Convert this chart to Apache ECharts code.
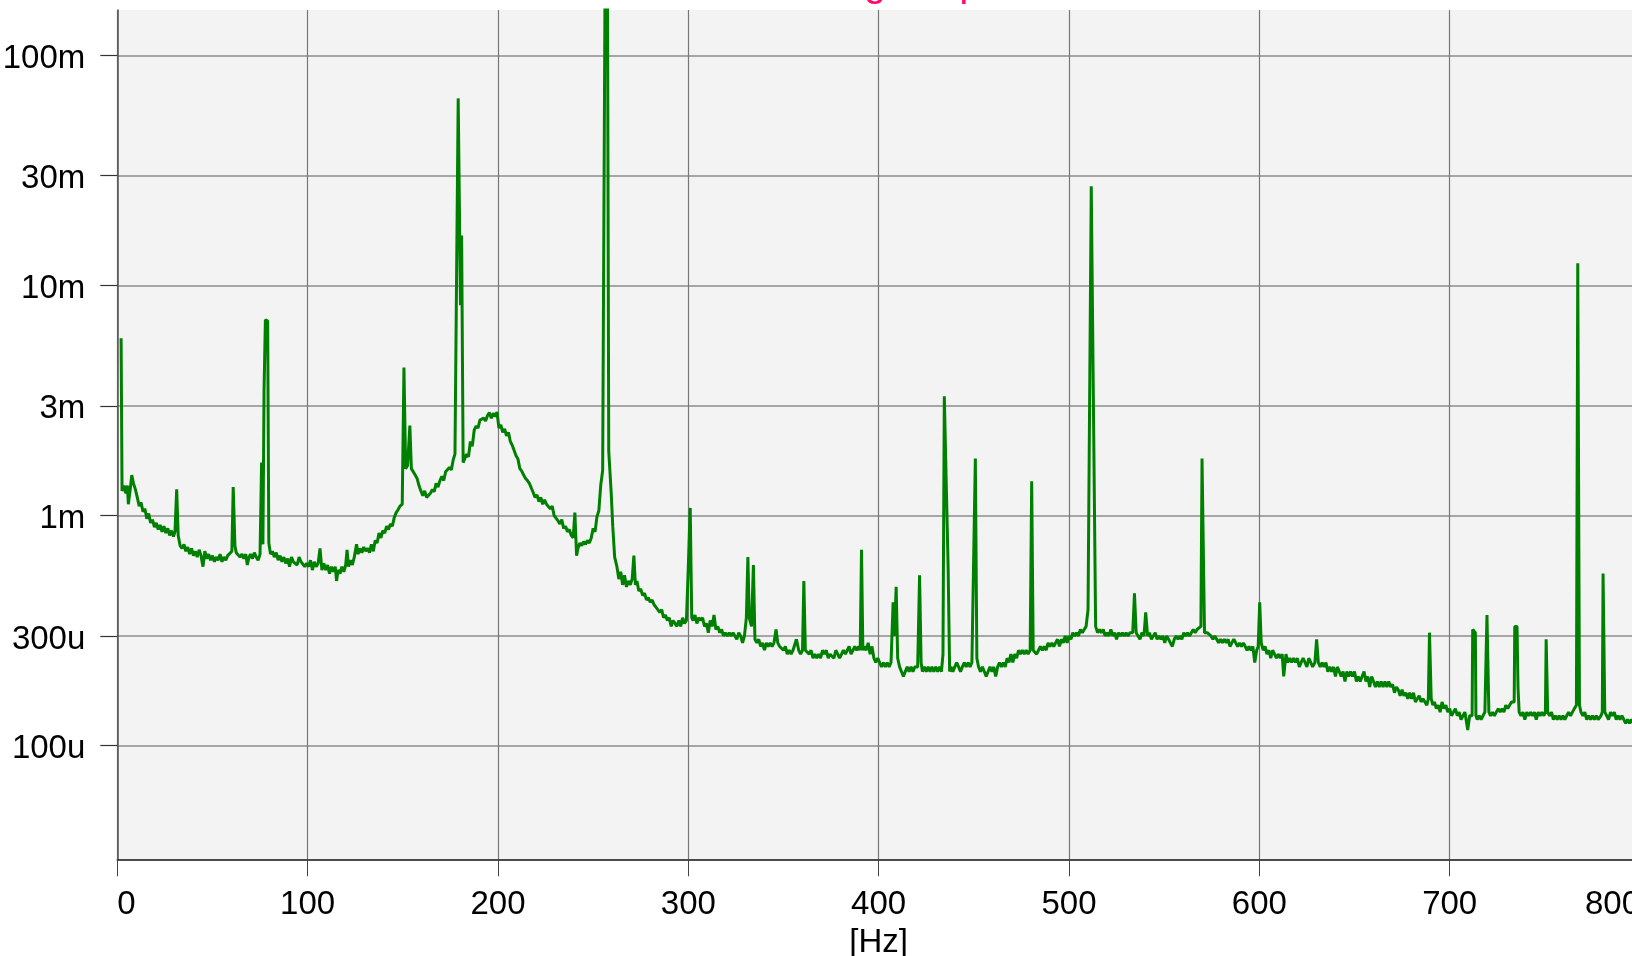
<!DOCTYPE html>
<html>
<head>
<meta charset="utf-8">
<script src="https://cdn.jsdelivr.net/npm/echarts@6/dist/echarts.min.js"></script>
<style>
html,body{margin:0;padding:0;background:#ffffff;}
#chart{width:1632px;height:956px;}
</style>
</head>
<body>
<div id="chart"></div>
<script>
// Spectrum amplitude, [frequency in Hz, amplitude in milli-units]
const band0to100 = [[2,5.9],[2.5,1.28],[3.5,1.35],[4.5,1.25],[5.3,1.35],[5.8,1.12],[6.8,1.3],[7.6,1.5],[8.5,1.38],[9.5,1.3],[10.5,1.2],[11.5,1.1],[12.5,1.14],[13.5,1.04],[14.5,1.07],[15.5,0.97],[16.5,1.02],[17.5,0.93],[18.5,0.96],[19.5,0.89],[20.5,0.93],[21.5,0.87],[22.5,0.91],[23.5,0.85],[24.5,0.9],[25.5,0.84],[26.5,0.88],[27.5,0.82],[28.5,0.86],[29.5,0.81],[30.3,0.85],[31.2,1.3],[32,0.82],[33,0.74],[34,0.72],[35,0.75],[36,0.7],[37,0.73],[38,0.68],[39,0.72],[40,0.67],[41,0.7],[42,0.66],[43,0.71],[44,0.67],[45,0.6],[46,0.7],[47,0.65],[48,0.68],[49,0.64],[50,0.67],[51,0.63],[52,0.66],[53,0.64],[54,0.68],[55,0.63],[56,0.66],[57,0.64],[58,0.67],[59,0.66],[60.2,0.7],[60.9,1.33],[61.8,0.74],[62.5,0.69],[63.5,0.7],[64.5,0.66],[65.5,0.68],[66.5,0.65],[67.5,0.68],[68.3,0.61],[69.2,0.66],[70,0.68],[71,0.65],[72,0.69],[73,0.66],[74,0.64],[75,0.68],[75.8,1.7],[76.5,0.75],[77.1,3.5],[77.8,7.1],[79,7.0],[79.6,0.76],[80.5,0.68],[81.5,0.7],[82.5,0.66],[83.5,0.69],[84.5,0.64],[85.5,0.67],[86.5,0.63],[87.5,0.66],[88.5,0.62],[89.5,0.65],[90.5,0.6],[91.5,0.66],[92.5,0.63],[93.5,0.64],[94.5,0.61],[95.5,0.66],[96.5,0.63],[97.5,0.64],[98.5,0.6],[99.5,0.62]];
const band100to200 = [[100.5,0.6],[101.5,0.64],[102.5,0.58],[103.5,0.63],[104.5,0.6],[105.5,0.62],[106.5,0.72],[107.5,0.58],[108.5,0.62],[109.5,0.58],[110.5,0.61],[111.5,0.56],[112.5,0.6],[113.5,0.57],[114.5,0.6],[115.2,0.52],[116,0.58],[117,0.56],[118,0.6],[119,0.57],[120,0.61],[120.7,0.71],[121.5,0.6],[122.5,0.64],[123.5,0.61],[124.5,0.66],[125.7,0.75],[126.5,0.68],[127.5,0.72],[128.5,0.69],[129.5,0.73],[130.5,0.7],[131.5,0.72],[132.5,0.69],[133.5,0.75],[134.5,0.7],[135.5,0.78],[136.5,0.76],[137.5,0.84],[138.5,0.8],[139.5,0.86],[140.5,0.84],[141.5,0.9],[142.5,0.87],[143.5,0.92],[144.5,0.9],[145.5,0.98],[146.5,1.03],[147.5,1.06],[148.5,1.1],[149.7,1.12],[150.6,4.4],[151.5,1.6],[152.5,1.65],[153.7,2.46],[154.5,1.6],[155.5,1.58],[156.5,1.5],[157.5,1.45],[158.5,1.35],[159.5,1.28],[160.5,1.22],[161.5,1.28],[162.5,1.2],[163.5,1.18],[164.5,1.25],[165.5,1.3],[166.5,1.27],[167.5,1.38],[168.5,1.33],[169.5,1.42],[170.5,1.48],[171.5,1.42],[172.5,1.55],[173.5,1.52],[174.5,1.62],[175.5,1.58],[176.5,1.75],[177.4,1.85],[179.1,65],[180.3,8.2],[180.9,16.5],[181.7,1.7],[182.5,1.72],[183.5,1.85],[184.5,1.8],[185.5,2.1],[186.5,2.0],[187.5,2.35],[188.5,2.45],[189.5,2.4],[190.5,2.6],[191.5,2.55],[192.5,2.65],[193.5,2.58],[194.5,2.72],[195.5,2.8],[196.5,2.65],[197.5,2.78],[198.5,2.7],[199.5,2.82]];
const band200to300 = [[200.5,2.4],[201.5,2.48],[202.5,2.3],[203.5,2.38],[204.5,2.22],[205.5,2.3],[206.5,2.1],[207.5,2.02],[208.5,2.06],[209.5,1.82],[210.5,1.76],[211.5,1.6],[212.5,1.56],[213.5,1.5],[214.5,1.45],[215.5,1.42],[216.5,1.38],[217.5,1.4],[218.5,1.26],[219.5,1.2],[220.5,1.23],[221.5,1.15],[222.5,1.2],[223.5,1.12],[224.5,1.17],[225.5,1.12],[226.5,1.14],[227.5,1.07],[228.5,1.1],[229.5,1.0],[230.5,1.02],[231.5,0.95],[232.5,0.92],[233.5,0.96],[234.5,0.88],[235.5,0.9],[236.5,0.85],[237.5,0.87],[238.5,0.82],[239.5,0.8],[240.4,1.03],[241.3,0.67],[242,0.72],[243,0.76],[244,0.74],[245,0.77],[246,0.75],[247,0.78],[248,0.76],[249,0.8],[250,0.88],[251,0.85],[252,0.99],[253,1.05],[254,1.36],[255,1.57],[256.3,250],[257.5,250],[258.2,1.9],[259.5,1.25],[260.3,0.9],[261.3,0.66],[262.5,0.6],[263.5,0.53],[264.5,0.57],[265.5,0.5],[266.5,0.55],[267.5,0.49],[268.5,0.52],[269.5,0.5],[270.5,0.53],[271.4,0.67],[272.2,0.5],[273,0.52],[274,0.47],[275,0.48],[276,0.45],[277,0.46],[278,0.43],[279,0.44],[280,0.42],[281,0.43],[282,0.41],[283,0.4],[284,0.4],[285,0.38],[286,0.39],[287,0.36],[288,0.37],[289,0.35],[290,0.36],[291,0.33],[292,0.35],[293,0.34],[294,0.33],[295,0.35],[296,0.33],[297,0.36],[298,0.34],[299,0.35],[300,0.6],[301,1.08],[301.8,0.36]];
const band300to400 = [[302.5,0.35],[303.5,0.37],[304.5,0.34],[305.5,0.36],[306.5,0.35],[307.5,0.36],[308.5,0.33],[309.5,0.34],[310.5,0.31],[311.5,0.35],[312.5,0.33],[313.5,0.37],[314.5,0.32],[315.5,0.33],[316.5,0.31],[317.5,0.32],[318.5,0.3],[319.5,0.31],[320.5,0.3],[321.5,0.31],[322.5,0.3],[323.5,0.31],[324.5,0.3],[325.5,0.29],[326.5,0.31],[327.5,0.3],[328.5,0.28],[329.5,0.3],[330.5,0.36],[331.3,0.66],[332,0.36],[333.2,0.33],[334.2,0.61],[335,0.29],[336,0.28],[337,0.29],[338,0.27],[339,0.28],[340,0.26],[341,0.28],[342,0.27],[343,0.28],[344,0.27],[345,0.28],[346.1,0.32],[347,0.28],[348,0.27],[349,0.27],[350,0.26],[351,0.27],[352,0.25],[353,0.26],[354,0.25],[355,0.26],[356.8,0.29],[358,0.26],[359,0.25],[360,0.26],[360.7,0.52],[361.5,0.26],[362.5,0.26],[363.5,0.25],[364.5,0.26],[365.5,0.24],[366.5,0.25],[367.5,0.24],[368.5,0.25],[369.5,0.24],[370.5,0.26],[371.5,0.25],[372.5,0.26],[373.5,0.24],[374.5,0.25],[375.5,0.25],[376.5,0.24],[377.5,0.26],[378.5,0.25],[379.5,0.24],[380.5,0.25],[381.5,0.26],[382.5,0.25],[383.5,0.26],[384.5,0.27],[385.5,0.25],[386.5,0.26],[387.5,0.27],[388.5,0.26],[389.5,0.27],[390.3,0.26],[391,0.71],[391.7,0.26],[392.5,0.27],[393.5,0.26],[394.5,0.28],[395.5,0.25],[396.5,0.27],[397.5,0.24],[398.5,0.23],[399.5,0.24]];
const band400to500 = [[400.5,0.23],[401.5,0.22],[402.5,0.23],[403.5,0.22],[404.5,0.23],[405.5,0.22],[406.5,0.23],[407.6,0.42],[408.3,0.3],[409.2,0.49],[410,0.24],[411,0.22],[412,0.21],[413,0.2],[414,0.21],[415,0.22],[416,0.21],[417,0.22],[418,0.21],[419,0.22],[420.5,0.22],[421.5,0.55],[422.3,0.23],[423,0.21],[424,0.22],[425,0.21],[426,0.22],[427,0.21],[428,0.22],[429,0.21],[430,0.22],[431,0.21],[432,0.22],[433,0.21],[433.8,0.25],[434.5,3.3],[435.5,1.4],[436.5,0.6],[437.3,0.21],[438,0.22],[439,0.21],[440,0.22],[441,0.23],[442,0.22],[443,0.21],[444,0.22],[445,0.23],[446,0.22],[447,0.23],[448,0.22],[449,0.23],[450,0.23],[450.8,1.77],[451.6,0.24],[452.5,0.22],[453.5,0.21],[454.5,0.22],[455.5,0.21],[456.5,0.2],[457.5,0.21],[458.5,0.22],[459.5,0.21],[460.5,0.22],[461.5,0.2],[462.5,0.22],[463.5,0.23],[464.5,0.22],[465.5,0.23],[466.5,0.22],[467.5,0.24],[468.5,0.23],[469.5,0.25],[470.5,0.23],[471.5,0.25],[472.5,0.24],[473.5,0.26],[474.5,0.25],[475.5,0.26],[476.5,0.25],[477.5,0.26],[478.5,0.25],[479.6,0.26],[480.4,1.41],[481.2,0.26],[482,0.26],[483,0.25],[484,0.26],[485,0.27],[486,0.26],[487,0.27],[488,0.26],[489,0.28],[490,0.27],[491,0.28],[492,0.27],[493,0.28],[494,0.29],[495,0.27],[496,0.29],[497,0.28],[498,0.3],[499,0.28]];
const band500to600 = [[500,0.3],[501,0.29],[502,0.31],[503,0.3],[504,0.31],[505,0.3],[506,0.32],[507,0.31],[508,0.32],[509,0.33],[510,0.39],[511.7,27],[512.3,27],[514,0.33],[515,0.31],[516,0.32],[517,0.31],[518,0.32],[519,0.3],[520,0.31],[521,0.3],[522,0.32],[523,0.3],[524,0.31],[525,0.29],[526,0.31],[527,0.3],[528,0.31],[529,0.3],[530,0.31],[531,0.3],[532,0.31],[533.5,0.31],[534.4,0.46],[535.3,0.31],[536.3,0.3],[537.3,0.29],[538.3,0.31],[539.4,0.3],[540.3,0.38],[541.3,0.3],[542.3,0.31],[543.3,0.29],[544.3,0.3],[545.3,0.31],[546.3,0.29],[547.3,0.3],[548.3,0.29],[549.3,0.3],[550.3,0.28],[551.3,0.3],[552.3,0.29],[553.3,0.29],[554.3,0.27],[555.3,0.29],[556.3,0.3],[557.3,0.29],[558.3,0.3],[559.3,0.29],[560.3,0.31],[561.3,0.3],[562.3,0.31],[563.3,0.3],[564.3,0.31],[565.3,0.32],[566.3,0.31],[567.3,0.32],[569.3,0.33],[569.9,1.77],[570.4,1.77],[571.2,0.31],[572.6,0.31],[573.6,0.31],[574.6,0.3],[575.6,0.29],[576.6,0.3],[577.6,0.29],[578.6,0.28],[579.6,0.29],[580.6,0.28],[581.6,0.29],[582.6,0.28],[583.6,0.29],[584.6,0.27],[585.6,0.28],[586.6,0.29],[587.6,0.28],[588.6,0.27],[589.6,0.28],[590.6,0.27],[591.6,0.28],[592.6,0.27],[593.6,0.26],[594.6,0.27],[595.6,0.26],[596.6,0.27],[597.6,0.23],[598.6,0.26],[599.4,0.27]];
const band600to700 = [[600.2,0.42],[601,0.28],[602,0.26],[603,0.27],[604,0.25],[605,0.26],[606,0.24],[607,0.26],[608,0.25],[609,0.24],[610,0.25],[611,0.24],[612,0.25],[612.8,0.2],[614,0.25],[615,0.23],[616,0.24],[617,0.23],[618,0.24],[619,0.23],[620,0.24],[621,0.22],[622,0.23],[623,0.24],[624,0.23],[625,0.22],[626,0.24],[627,0.23],[628,0.22],[629.2,0.23],[630.1,0.29],[631,0.23],[632,0.22],[633,0.23],[634,0.22],[635,0.23],[636,0.21],[637,0.22],[638,0.21],[639,0.22],[640,0.2],[641,0.22],[642,0.21],[643,0.2],[644,0.21],[645,0.19],[646,0.21],[647,0.2],[648,0.21],[649,0.2],[650,0.21],[651,0.19],[652,0.2],[653,0.19],[654,0.2],[655,0.21],[656,0.19],[657,0.2],[658,0.18],[659,0.2],[660,0.19],[661,0.18],[662,0.19],[663,0.18],[664,0.19],[665,0.18],[666,0.19],[667,0.18],[668,0.19],[669,0.18],[670,0.185],[671,0.17],[672,0.18],[673,0.175],[674,0.165],[675,0.175],[676,0.165],[677,0.17],[678,0.16],[679,0.17],[680,0.16],[681,0.17],[682,0.155],[683,0.16],[684,0.165],[685,0.155],[686,0.16],[687,0.155],[688,0.15],[688.8,0.16],[689.4,0.31],[690.3,0.16],[691.2,0.15],[692,0.155],[693,0.145],[694,0.15],[695,0.14],[696,0.155],[697,0.145],[698,0.15],[699,0.14]];
const band700to800 = [[700,0.145],[701,0.135],[702,0.14],[703,0.145],[704,0.135],[705,0.14],[706,0.13],[707,0.135],[708,0.14],[709.5,0.117],[710.5,0.135],[711.8,0.135],[712.1,0.32],[713.5,0.31],[713.8,0.135],[714.5,0.13],[715.5,0.135],[716.5,0.13],[717.5,0.135],[718.5,0.14],[719.3,0.14],[719.6,0.37],[720.6,0.14],[721.5,0.135],[722.5,0.14],[723.5,0.135],[724.5,0.14],[725.5,0.145],[726.5,0.14],[727.5,0.145],[728.5,0.14],[729.5,0.15],[730.5,0.145],[731.5,0.15],[732.5,0.155],[733.9,0.155],[734.2,0.33],[735.4,0.33],[735.9,0.18],[736.5,0.14],[737.5,0.135],[738.5,0.14],[739.5,0.13],[740.5,0.14],[741.5,0.135],[742.5,0.14],[743.5,0.135],[744.5,0.14],[745.5,0.13],[746.5,0.14],[747.5,0.135],[748.5,0.14],[749.5,0.135],[750.3,0.14],[750.7,0.29],[751.5,0.14],[752.5,0.135],[753.5,0.14],[754.5,0.13],[755.5,0.135],[756.5,0.13],[757.5,0.135],[758.5,0.13],[759.5,0.135],[760.5,0.13],[761.5,0.135],[762.5,0.14],[763.5,0.135],[764.5,0.14],[765.5,0.145],[766.6,0.15],[767.3,12.5],[768.2,0.15],[769,0.14],[770,0.135],[771,0.14],[772,0.13],[773,0.135],[774,0.13],[775,0.135],[776,0.13],[777,0.135],[778,0.13],[779.5,0.135],[780.2,0.14],[780.6,0.56],[781.5,0.14],[782.5,0.135],[783.5,0.13],[784.5,0.14],[785.5,0.135],[786.5,0.14],[787.5,0.13],[788.5,0.135],[789.5,0.13],[790.5,0.135],[791.5,0.13],[792.5,0.125],[793.5,0.13],[794.5,0.125],[795.5,0.13],[796.5,0.125],[798,0.13],[800,0.125]];

// Axis ticks
const yTickValues = [0.1, 0.3, 1, 3, 10, 30, 100];          // milli-units
const yTickLabels = ['100u', '300u', '1m', '3m', '10m', '30m', '100m'];
const xTickValues = [0, 100, 200, 300, 400, 500, 600, 700, 800];
const xTickLabels = ['0', '100', '200', '300', '400', '500', '600', '700', '800'];
const xAxisTitle = '[Hz]';
const chartTitle = 'Averaged spectrum';

const FONT = '"Liberation Sans", Arial, sans-serif';

const seriesData = [].concat(band0to100, band100to200, band200to300, band300to400,
  band400to500, band500to600, band600to700, band700to800);

function yLabel(v) {
  let best = 0, bestD = Infinity;
  for (let i = 0; i < yTickValues.length; i++) {
    const d = Math.abs(Math.log10(v / yTickValues[i]));
    if (d < bestD) { bestD = d; best = i; }
  }
  return '{t|' + yTickLabels[best] + '}';
}
function xLabel(v) {
  const i = xTickValues.indexOf(Math.round(v));
  return i >= 0 ? xTickLabels[i] : String(v);
}

const chart = echarts.init(document.getElementById('chart'), null, {renderer: 'canvas'});
chart.setOption({
  animation: false,
  backgroundColor: '#ffffff',
  title: {
    text: chartTitle,
    left: 758,
    top: -39,
    textStyle: {color: '#ff0a6c', fontSize: 39, fontWeight: 'normal', fontFamily: FONT}
  },
  grid: {
    left: 117.3, right: -8, top: 10, bottom: 96.7,
    show: true, backgroundColor: '#f3f3f3', borderWidth: 0,
    containLabel: false, outerBoundsMode: 'none'
  },
  xAxis: {
    type: 'value', min: 0, max: 800, interval: 100,
    name: xAxisTitle, nameLocation: 'middle', nameGap: 62,
    nameTextStyle: {fontSize: 33, color: '#000', fontFamily: FONT},
    axisLine: {show: true, onZero: false, lineStyle: {color: '#111', width: 1.6}},
    axisTick: {show: true, length: 17, lineStyle: {color: '#444', width: 1}},
    axisLabel: {
      margin: 29.5, fontSize: 33, color: '#000', fontFamily: FONT,
      formatter: xLabel, alignMinLabel: 'left', alignMaxLabel: 'right',
      showMinLabel: true, showMaxLabel: true, hideOverlap: false
    },
    splitLine: {show: true, lineStyle: {color: '#777', width: 1.2}}
  },
  yAxis: {
    type: 'log', logBase: 10, min: 0.0321, max: 157.4,
    axisLine: {show: true, onZero: false, lineStyle: {color: '#555', width: 1.5}},
    axisTick: {show: true, length: 17, customValues: yTickValues, lineStyle: {color: '#333', width: 1.2}},
    axisLabel: {
      customValues: yTickValues, margin: 32, fontSize: 33, color: '#000', fontFamily: FONT,
      formatter: yLabel,
      rich: {t: {fontSize: 33, color: '#000', fontFamily: FONT, padding: [7, 0, 0, 0]}}
    },
    splitLine: {show: true, lineStyle: {color: '#8c8c8c', width: 1.5}},
    minorSplitLine: {show: false}
  },
  series: [{
    type: 'line',
    data: seriesData,
    showSymbol: false,
    symbol: 'none',
    clip: true,
    lineStyle: {color: '#008000', width: 3},
    emphasis: {disabled: true}
  }]
});
</script>
</body>
</html>
